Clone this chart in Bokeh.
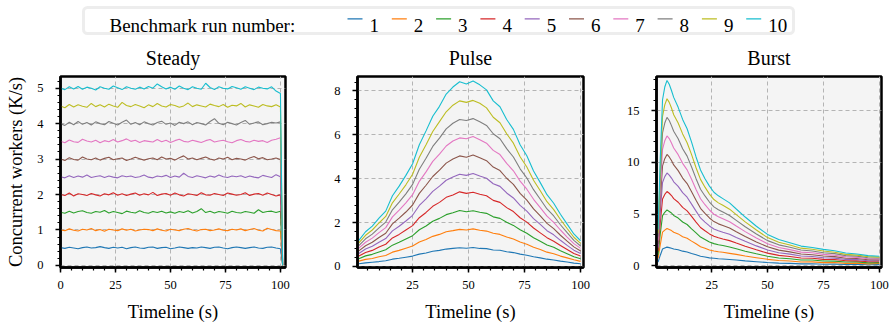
import numpy as np
from bokeh.plotting import figure
from bokeh.layouts import column, row
from bokeh.models import ColumnDataSource, Range1d, FixedTicker, BoxAnnotation
from bokeh.embed import file_html
from bokeh.resources import INLINE
from bokeh.core.properties import value

FONT = "Liberation Serif"

RUNS = ["1", "2", "3", "4", "5", "6", "7", "8", "9", "10"]
COLORS = ["#1f77b4", "#ff7f0e", "#2ca02c", "#d62728", "#9467bd",
          "#8c564b", "#e377c2", "#7f7f7f", "#bcbd22", "#17becf"]
LEGEND_TITLE = "Benchmark run number:"
PANEL_TITLES = ["Steady", "Pulse", "Burst"]
X_LABEL = "Timeline (s)"
Y_LABEL = "Concurrent workers (K/s)"

# ---------------- Steady ----------------
STEADY_T = list(range(0, 101, 2)) + [101]
STEADY_1 = [0.50,0.48,0.51,0.49,0.47,0.50,0.52,0.49,0.50,0.53,
            0.50,0.48,0.51,0.49,0.51,0.47,0.50,0.52,0.49,0.48,
            0.51,0.52,0.48,0.50,0.51,0.47,0.49,0.52,0.50,0.48,
            0.50,0.49,0.52,0.50,0.48,0.51,0.52,0.49,0.47,0.50,
            0.52,0.50,0.48,0.50,0.52,0.49,0.48,0.51,0.52,0.49,
            0.47,0.0]
STEADY_2 = [1.00,0.98,1.03,0.99,0.97,1.02,1.00,1.04,0.98,1.01,
            0.96,1.02,1.00,0.98,1.03,0.99,1.02,0.97,1.00,1.02,
            1.01,0.98,1.03,0.99,0.97,1.02,1.00,0.98,1.02,1.04,
            1.00,0.97,1.01,1.02,0.98,1.00,1.03,0.99,0.98,1.02,
            1.00,1.03,0.98,1.01,1.04,0.99,0.97,1.05,1.01,0.98,
            0.97,0.0]
STEADY_3 = [1.50,1.47,1.53,1.48,1.52,1.54,1.49,1.47,1.52,1.50,
            1.55,1.48,1.52,1.49,1.46,1.53,1.50,1.48,1.54,1.49,
            1.47,1.52,1.49,1.53,1.48,1.51,1.47,1.52,1.49,1.54,
            1.48,1.52,1.60,1.49,1.53,1.48,1.52,1.50,1.47,1.53,
            1.49,1.48,1.52,1.50,1.47,1.57,1.49,1.52,1.53,1.49,
            1.53,0.0]
STEADY_4 = [2.00,1.97,2.04,1.96,2.02,2.00,1.97,2.03,1.99,1.96,
            2.02,1.99,2.05,1.98,2.02,1.97,2.01,2.04,1.98,2.02,
            1.99,2.06,1.97,2.01,2.03,1.98,2.04,1.99,1.96,2.02,
            2.00,1.97,2.05,1.99,1.98,2.03,2.00,1.97,2.04,2.01,
            1.98,2.00,2.05,1.97,2.01,2.03,1.98,2.04,2.00,1.96,
            1.99,0.0]
STEADY_5 = [2.50,2.47,2.53,2.48,2.52,2.49,2.55,2.48,2.51,2.53,
            2.48,2.52,2.49,2.47,2.53,2.50,2.52,2.48,2.50,2.55,
            2.49,2.47,2.52,2.50,2.54,2.48,2.52,2.49,2.60,2.51,
            2.48,2.53,2.50,2.47,2.52,2.49,2.55,2.50,2.48,2.52,
            2.50,2.53,2.48,2.52,2.49,2.47,2.54,2.51,2.48,2.56,
            2.50,0.0]
STEADY_6 = [3.00,2.96,3.04,2.99,2.97,3.06,3.00,2.98,3.03,2.97,
            3.02,3.05,2.98,3.01,3.03,2.96,3.00,3.05,3.01,2.97,
            3.01,3.03,2.98,3.06,3.00,3.02,2.97,3.04,3.09,3.00,
            3.03,2.98,3.02,3.06,3.00,2.97,3.03,3.00,3.05,2.98,
            3.02,3.00,2.97,3.03,3.07,3.01,3.04,2.98,3.00,3.03,
            2.99,0.0]
STEADY_7 = [3.50,3.46,3.54,3.49,3.47,3.56,3.51,3.48,3.53,3.46,
            3.52,3.49,3.55,3.48,3.52,3.57,3.50,3.53,3.47,3.52,
            3.50,3.48,3.55,3.49,3.53,3.47,3.52,3.56,3.50,3.48,
            3.53,3.50,3.47,3.52,3.55,3.48,3.51,3.53,3.49,3.46,
            3.52,3.55,3.50,3.48,3.53,3.50,3.52,3.47,3.53,3.56,
            3.60,0.0]
STEADY_8 = [4.00,3.95,4.04,3.97,4.06,3.98,4.03,3.96,4.05,4.00,
            3.97,4.06,4.01,3.96,4.04,4.10,3.98,4.03,3.97,4.05,
            4.00,3.96,4.03,4.07,3.98,4.02,3.95,4.04,4.00,4.05,
            3.97,4.03,4.00,3.96,4.06,4.14,4.01,3.97,4.04,4.00,
            3.96,4.03,4.09,3.98,4.02,4.05,3.97,4.00,4.04,4.02,
            4.05,0.0]
STEADY_9 = [4.50,4.45,4.54,4.47,4.53,4.49,4.46,4.57,4.48,4.53,
            4.47,4.55,4.50,4.46,4.60,4.51,4.48,4.54,4.50,4.45,
            4.53,4.48,4.57,4.50,4.47,4.54,4.51,4.46,4.50,4.58,
            4.48,4.53,4.50,4.47,4.55,4.51,4.48,4.54,4.46,4.52,
            4.50,4.57,4.47,4.53,4.50,4.46,4.54,4.50,4.48,4.53,
            4.47,0.0]
STEADY_10 = [5.00,4.96,5.04,4.98,5.05,4.97,5.03,5.00,4.95,5.04,
             5.00,4.97,5.06,5.01,4.96,5.04,5.00,4.97,5.03,4.98,
             5.05,5.00,5.12,5.04,4.98,5.03,4.97,5.06,5.00,4.96,
             5.04,5.00,4.97,5.14,5.02,4.96,5.04,5.00,4.98,5.05,
             5.01,4.97,5.04,5.00,4.96,5.03,5.00,4.98,5.04,4.92,
             4.85,0.0]
STEADY = [STEADY_1, STEADY_2, STEADY_3, STEADY_4, STEADY_5,
          STEADY_6, STEADY_7, STEADY_8, STEADY_9, STEADY_10]

# ---------------- Pulse ----------------
PULSE_T = list(range(1, 101, 3))
PULSE_1 = [0.12,0.16,0.19,0.22,0.26,0.33,0.37,0.42,0.47,0.56,0.61,0.69,0.73,0.79,0.82,0.85,0.83,
           0.86,0.82,0.81,0.75,0.74,0.67,0.63,0.56,0.51,0.44,0.39,0.33,0.29,0.24,0.20,0.15,0.12]
PULSE_2 = [0.24,0.32,0.36,0.44,0.50,0.65,0.73,0.83,0.93,1.11,1.23,1.37,1.46,1.58,1.63,1.69,1.66,
           1.71,1.65,1.61,1.51,1.46,1.34,1.25,1.11,1.01,0.87,0.77,0.65,0.58,0.47,0.39,0.30,0.23]
PULSE_3 = [0.35,0.48,0.55,0.66,0.76,0.97,1.10,1.25,1.40,1.67,1.84,2.06,2.19,2.36,2.45,2.55,2.49,
           2.54,2.47,2.42,2.26,2.19,2.01,1.87,1.67,1.51,1.31,1.15,0.98,0.87,0.71,0.58,0.44,0.35]
PULSE_4 = [0.47,0.63,0.73,0.88,1.01,1.30,1.46,1.66,1.86,2.22,2.46,2.74,2.92,3.15,3.26,3.40,3.33,
           3.38,3.29,3.22,3.01,2.92,2.68,2.50,2.22,2.02,1.75,1.53,1.31,1.15,0.95,0.77,0.59,0.47]
PULSE_5 = [0.59,0.79,0.92,1.10,1.27,1.62,1.83,2.07,2.33,2.78,3.08,3.42,3.66,3.93,4.08,4.20,4.15,
           4.24,4.12,4.02,3.77,3.65,3.35,3.12,2.78,2.52,2.18,1.92,1.63,1.44,1.19,0.96,0.74,0.59]
PULSE_6 = [0.71,0.94,1.10,1.32,1.51,1.94,2.20,2.48,2.80,3.33,3.70,4.10,4.39,4.71,4.90,5.04,4.98,
           5.08,4.95,4.82,4.53,4.37,4.02,3.74,3.33,3.02,2.62,2.30,1.96,1.72,1.42,1.15,0.89,0.70]
PULSE_7 = [0.83,1.10,1.29,1.54,1.77,2.26,2.57,2.90,3.27,3.88,4.31,4.79,5.12,5.49,5.72,5.86,5.82,
           5.92,5.78,5.62,5.29,5.10,4.70,4.36,3.89,3.52,3.06,2.68,2.29,2.01,1.66,1.34,1.04,0.82]
PULSE_8 = [0.95,1.26,1.47,1.76,2.02,2.58,2.93,3.31,3.74,4.43,4.93,5.47,5.85,6.27,6.53,6.70,6.65,
           6.74,6.60,6.43,6.05,5.82,5.37,4.99,4.45,4.03,3.50,3.06,2.62,2.30,1.90,1.54,1.19,0.93]
PULSE_9 = [1.07,1.42,1.66,1.98,2.28,2.90,3.30,3.72,4.20,4.98,5.55,6.15,6.60,7.05,7.35,7.55,7.48,
           7.57,7.44,7.23,6.80,6.55,6.05,5.62,5.00,4.53,3.93,3.45,2.95,2.59,2.14,1.73,1.33,1.05]
PULSE_10 = [1.19,1.58,1.84,2.20,2.52,3.22,3.66,4.15,4.68,5.55,6.18,6.85,7.30,7.86,8.18,8.42,8.32,
            8.45,8.28,8.05,7.55,7.28,6.70,6.25,5.55,5.05,4.35,3.82,3.27,2.88,2.38,1.93,1.48,1.17]
PULSE = [PULSE_1, PULSE_2, PULSE_3, PULSE_4, PULSE_5,
         PULSE_6, PULSE_7, PULSE_8, PULSE_9, PULSE_10]

# ---------------- Burst ----------------
BURST_T = [1, 2, 3, 4, 5, 6, 7, 8, 10, 12, 14, 16, 18, 20, 22, 24, 26, 28, 30,
           33, 36, 40, 45, 50, 55, 60, 65, 70, 75, 80, 85, 90, 95, 100]
BURST_1 = [0.35,1.02,1.62,1.72,1.80,1.75,1.70,1.62,1.54,1.41,1.33,1.19,1.06,0.92,0.85,0.76,0.72,
           0.67,0.65,0.60,0.55,0.47,0.39,0.31,0.25,0.23,0.18,0.19,0.15,0.16,0.12,0.13,0.09,0.11]
BURST_2 = [0.70,2.05,3.25,3.44,3.60,3.50,3.40,3.24,3.08,2.81,2.66,2.38,2.12,1.84,1.70,1.53,1.43,
           1.35,1.30,1.20,1.10,0.94,0.78,0.62,0.50,0.46,0.36,0.37,0.30,0.31,0.23,0.25,0.18,0.21]
BURST_3 = [1.05,3.10,4.85,5.17,5.40,5.25,5.10,4.86,4.61,4.23,3.99,3.57,3.17,2.77,2.54,2.30,2.14,
           2.03,1.95,1.82,1.65,1.41,1.16,0.92,0.75,0.68,0.56,0.55,0.46,0.45,0.36,0.37,0.28,0.30]
BURST_4 = [1.40,4.15,6.45,6.90,7.18,7.01,6.79,6.49,6.14,5.65,5.31,4.77,4.22,3.70,3.38,3.08,2.85,
           2.70,2.59,2.43,2.19,1.88,1.54,1.22,1.00,0.90,0.75,0.72,0.62,0.60,0.48,0.47,0.38,0.39]
BURST_5 = [1.75,5.20,8.05,8.62,8.97,8.77,8.48,8.12,7.67,7.07,6.63,5.96,5.28,4.62,4.22,3.85,3.56,
           3.38,3.24,3.04,2.74,2.36,1.92,1.53,1.26,1.12,0.94,0.90,0.78,0.74,0.61,0.59,0.48,0.48]
BURST_6 = [2.10,6.25,9.65,10.35,10.76,10.52,10.17,9.75,9.20,8.48,7.95,7.16,6.33,5.55,5.06,4.62,4.27,
           4.05,3.89,3.65,3.29,2.83,2.30,1.83,1.51,1.34,1.13,1.07,0.94,0.88,0.73,0.70,0.58,0.57]
BURST_7 = [2.45,7.30,11.25,12.08,12.55,12.30,11.86,11.38,10.74,9.90,9.27,8.36,7.38,6.48,5.90,5.39,4.98,
           4.73,4.54,4.26,3.84,3.30,2.68,2.12,1.77,1.56,1.32,1.25,1.10,1.02,0.86,0.81,0.68,0.66]
BURST_8 = [2.80,8.35,12.85,13.80,14.35,14.05,13.55,13.00,12.28,11.32,10.60,9.55,8.42,7.40,6.75,6.16,5.69,
           5.41,5.19,4.86,4.39,3.77,3.07,2.43,2.02,1.78,1.52,1.43,1.25,1.17,0.98,0.93,0.78,0.75]
BURST_9 = [3.15,9.40,14.45,15.55,16.15,15.80,15.25,14.60,13.80,12.75,11.90,10.75,9.48,8.35,7.60,6.93,6.40,
           6.08,5.84,5.47,4.94,4.24,3.45,2.72,2.28,2.00,1.70,1.60,1.42,1.30,1.10,1.03,0.88,0.83]
BURST_10 = [3.50,10.45,16.05,17.28,17.92,17.55,16.95,16.28,15.32,14.15,13.25,11.95,10.52,9.26,8.42,7.70,7.11,
            6.76,6.49,6.08,5.49,4.71,3.82,3.03,2.53,2.22,1.90,1.77,1.58,1.45,1.23,1.14,0.98,0.92]
BURST = [BURST_1, BURST_2, BURST_3, BURST_4, BURST_5,
         BURST_6, BURST_7, BURST_8, BURST_9, BURST_10]

for s in STEADY:
    assert len(s) == len(STEADY_T)
for s in PULSE:
    assert len(s) == len(PULSE_T)
for s in BURST:
    assert len(s) == len(BURST_T)

LEGEND_H = 37
ROW_H = 324 - LEGEND_H


def make_panel(title, t, series, xr, yr, xt, xminor, yt, yminor, width,
               ml, mr, ylabel=None):
    p = figure(width=width, height=ROW_H, output_backend="svg", toolbar_location=None,
               x_range=Range1d(*xr), y_range=Range1d(*yr),
               min_border_left=ml, min_border_right=mr,
               min_border_top=39, min_border_bottom=56, title=title)
    p.title.text_font = FONT
    p.title.text_font_size = "20px"
    p.title.text_font_style = "normal"
    p.title.text_color = "black"
    p.title.align = "center"
    p.title.standoff = 15
    p.background_fill_color = "#f4f4f4"
    p.border_fill_color = "white"
    p.outline_line_color = "black"
    p.outline_line_width = 2.5

    p.xaxis.ticker = FixedTicker(ticks=xt, minor_ticks=xminor)
    p.yaxis.ticker = FixedTicker(ticks=yt, minor_ticks=yminor)
    for ax in (p.xaxis[0], p.yaxis[0]):
        ax.axis_line_width = 2.5
        ax.axis_line_color = "black"
        ax.major_tick_line_width = 1.5
        ax.major_tick_out = 5
        ax.major_tick_in = 0
        ax.minor_tick_line_width = 1.2
        ax.minor_tick_out = 3
        ax.minor_tick_in = 0
        ax.major_label_text_font = FONT
        ax.major_label_text_font_size = "12.5px"
        ax.major_label_text_color = "black"
        ax.axis_label_text_font = FONT
        ax.axis_label_text_font_size = "18.5px"
        ax.axis_label_text_font_style = "normal"
        ax.axis_label_text_color = "black"
    p.xaxis.major_label_standoff = 8
    p.yaxis.major_label_standoff = 12
    p.xaxis.axis_label = X_LABEL
    p.xaxis.axis_label_standoff = 10
    if ylabel:
        p.yaxis.axis_label = ylabel
        p.yaxis.axis_label_standoff = 8

    for g in (p.xgrid[0], p.ygrid[0]):
        g.grid_line_color = "#b4b4b4"
        g.grid_line_dash = "4 3"
        g.grid_line_width = 1

    for vals, c in zip(series, COLORS):
        p.line(x=t, y=vals, line_color=c, line_width=1.1)
    return p


p1 = make_panel(PANEL_TITLES[0], STEADY_T, STEADY, (0, 102.3), (-0.06, 5.33),
                [0, 25, 50, 75, 100], list(np.arange(0, 102.3, 5)),
                [0, 1, 2, 3, 4, 5], list(np.round(np.arange(0, 5.33, 0.2), 2)),
                300, 60, 15, ylabel=Y_LABEL)
p2 = make_panel(PANEL_TITLES[1], PULSE_T, PULSE, (0.4, 101.3), (-0.05, 8.66),
                [0, 25, 50, 75, 100], list(np.arange(5, 101.3, 5)),
                [0, 2, 4, 6, 8], list(np.round(np.arange(0, 8.66, 0.4), 2)),
                298, 57, 15)
p3 = make_panel(PANEL_TITLES[2], BURST_T, BURST, (0.3, 101.0), (-0.17, 18.3),
                [0, 25, 50, 75, 100], list(np.arange(5, 101.0, 5)),
                [0, 5, 10, 15], list(np.arange(0, 18.3, 1.0)),
                293, 58, 10)

# ---------------- Legend strip ----------------
lf = figure(width=891, height=LEGEND_H, output_backend="svg", toolbar_location=None,
            x_range=Range1d(0, 891), y_range=Range1d(40 - LEGEND_H, 40),
            x_axis_location=None, y_axis_location=None, min_border=0)
lf.grid.visible = False
lf.outline_line_color = None
lf.background_fill_color = "white"
lf.border_fill_color = "white"

box = BoxAnnotation(left=83, right=793, bottom=7, top=33,
                    fill_color="white", fill_alpha=1.0,
                    line_color="#c4c4c4", line_width=3, border_radius=4,
                    level="underlay")
lf.add_layout(box)

lf.text(x=[109], y=[15], text=[LEGEND_TITLE], text_font=value(FONT),
        text_font_size="19px", text_baseline="alphabetic", text_align="left",
        text_color="black")

x0 = [347 + 44.3 * i for i in range(len(RUNS))]
leg = ColumnDataSource(dict(x0=x0, x1=[v + 15 for v in x0], xt=[v + 22 for v in x0],
                            y=[21.7] * len(RUNS), yt=[15] * len(RUNS),
                            label=RUNS, color=COLORS))
lf.segment(x0="x0", y0="y", x1="x1", y1="y", line_color="color", line_width=1.3, source=leg)
lf.text(x="xt", y="yt", text="label", text_font=value(FONT), text_font_size="19px",
        text_baseline="alphabetic", text_align="left", text_color="black", source=leg)

layout = column(lf, row(p1, p2, p3, spacing=0), spacing=0)

open("out.html", "w").write(file_html(layout, INLINE))
